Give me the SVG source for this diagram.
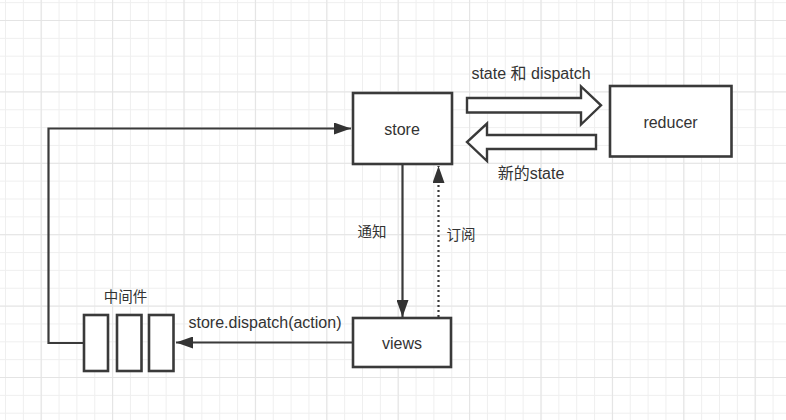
<svg xmlns="http://www.w3.org/2000/svg" width="786" height="420" viewBox="0 0 786 420">
<defs>
<pattern id="minor" patternUnits="userSpaceOnUse" x="5" y="2.15" width="17.85" height="17.85">
<path d="M0.5 0 V17.85 M0 0.5 H17.85" fill="none" stroke="#efefef" stroke-width="1"/>
</pattern>
<pattern id="major" patternUnits="userSpaceOnUse" x="40.7" y="20" width="71.4" height="71.4">
<path d="M0.5 0 V71.4 M0 0.5 H71.4" fill="none" stroke="#e4e4e4" stroke-width="1.2"/>
</pattern>
<marker id="ah" viewBox="0 0 17 12" refX="17" refY="6" markerWidth="17" markerHeight="12" markerUnits="userSpaceOnUse" orient="auto">
<path d="M0 0 L17 6 L0 12 Z" fill="#333"/>
</marker>
<style>
.box{fill:#fff;stroke:#3a3a3a;stroke-width:2.6}
.ln{fill:none;stroke:#3a3a3a;stroke-width:2.2}
.big{fill:#fff;stroke:#3a3a3a;stroke-width:2.4;stroke-linejoin:miter}
.t{font-family:"Liberation Sans","Noto Sans CJK SC",sans-serif;font-size:16px;fill:#333;text-anchor:middle;dominant-baseline:central}
.c{font-family:"Noto Sans CJK SC","Liberation Sans",sans-serif;font-size:14.5px;fill:#333;text-anchor:middle;dominant-baseline:central}
</style>
</defs>
<rect width="786" height="420" fill="#fff"/>
<rect width="786" height="420" fill="url(#minor)"/>
<rect width="786" height="420" fill="url(#major)"/>

<g id="connectors">
<polyline class="ln" points="84,343 48.5,343 48.5,128.5 351,128.5" marker-end="url(#ah)"/>
<line class="ln" x1="402.5" y1="165" x2="402.5" y2="317" marker-end="url(#ah)"/>
<line class="ln" x1="438.5" y1="317" x2="438.5" y2="166" stroke-dasharray="2 3" marker-end="url(#ah)"/>
<line class="ln" x1="353" y1="342.5" x2="176" y2="342.5" marker-end="url(#ah)"/>
<path id="arrow-right" class="big" d="M467 98 H581 V86.5 L601 105.3 L581 124.5 V112.5 H467 Z"/>
<path id="arrow-left" class="big" d="M596 135 H487 V123.5 L467 142 L487 161 V149 H596 Z"/>
<text class="t" x="531" y="73.5">state 和 dispatch</text>
<text class="t" x="531" y="173.5">新的state</text>
<text class="c" x="372" y="230">通知</text>
<text class="c" x="461" y="233">订阅</text>
<text class="t" x="265" y="322.7">store.dispatch(action)</text>
</g>

<g id="store">
<rect class="box" x="353" y="93" width="99" height="71"/>
<text class="t" x="402" y="129">store</text>
</g>
<g id="reducer">
<rect class="box" x="610" y="86" width="121.5" height="70.5"/>
<text class="t" x="670.5" y="122">reducer</text>
</g>
<g id="views">
<rect class="box" x="353" y="318" width="98" height="49"/>
<text class="t" x="402" y="343">views</text>
</g>
<g id="middleware">
<rect class="box" x="84" y="315" width="24" height="56"/>
<rect class="box" x="117" y="315" width="24.5" height="56"/>
<rect class="box" x="149" y="315" width="24.5" height="56"/>
<text class="c" x="125.5" y="295">中间件</text>
</g>
</svg>
